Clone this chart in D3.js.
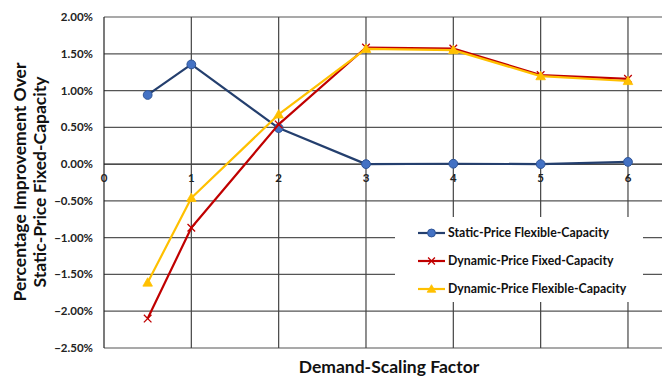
<!DOCTYPE html>
<html>
<head>
<meta charset="utf-8">
<script src="https://cdn.jsdelivr.net/npm/d3@7"></script>
<style>
  html, body { margin: 0; padding: 0; background: #fff; }
  svg { display: block; font-family: Lato, "Open Sans", sans-serif; }
</style>
</head>
<body>
<svg id="chart" width="662" height="378"></svg>
<script>
// Demand-scaling factors at which each policy was evaluated
const factors = [0.5, 1, 2, 3, 4, 5, 6];

// Percentage improvement over the static-price fixed-capacity baseline
const staticFlexible  = [0.94, 1.355, 0.49, 0.0, 0.005, 0.0, 0.03];
const dynamicFixed    = [-2.10, -0.865, 0.54, 1.585, 1.572, 1.21, 1.16];
const dynamicFlexible = [-1.61, -0.46, 0.675, 1.567, 1.55, 1.196, 1.13];

const seriesNames = [
  "Static-Price Flexible-Capacity",
  "Dynamic-Price Fixed-Capacity",
  "Dynamic-Price Flexible-Capacity"
];

const xTicks = [0, 1, 2, 3, 4, 5, 6];
const yTicks = [2.0, 1.5, 1.0, 0.5, 0.0, -0.5, -1.0, -1.5, -2.0, -2.5];

const W = 662, H = 378;
const svg = d3.select("#chart");

const x = d3.scaleLinear().domain([0, 6.4]).range([104, 104 + 6.4 * 87.33]);
const y = d3.scaleLinear().domain([-2.5, 2.0]).range([348, 17]);

const series = [
  { name: seriesNames[0], values: staticFlexible,  line: "#243F6E", marker: "circle",   fill: "#4472C4", stroke: "#2F5597" },
  { name: seriesNames[1], values: dynamicFixed,    line: "#C00000", marker: "cross",    fill: "none",    stroke: "#C00000" },
  { name: seriesNames[2], values: dynamicFlexible, line: "#FFC000", marker: "triangle", fill: "#FFC000", stroke: "#FFC000" }
];

// Gridlines
const grid = svg.append("g");
grid.selectAll("line.h").data(yTicks).join("line")
  .attr("x1", x(0)).attr("x2", W)
  .attr("y1", d => y(d)).attr("y2", d => y(d))
  .attr("stroke", d => d === 0 ? "#111" : "#555").attr("stroke-width", 1.2);
grid.selectAll("line.v").data(xTicks).join("line")
  .attr("x1", d => x(d)).attr("x2", d => x(d))
  .attr("y1", y(2.0)).attr("y2", y(-2.5))
  .attr("stroke", d => d === 0 ? "#222" : "#444").attr("stroke-width", 1.2);

// Y tick labels
svg.append("g").selectAll("text").data(yTicks).join("text")
  .attr("x", 93).attr("y", d => y(d)).attr("dy", "0.35em")
  .attr("text-anchor", "end")
  .attr("font-size", 11.5).attr("font-weight", "bold").attr("fill", "#222")
  .text(d => d3.format(".2f")(d) + "%");

// X tick labels, sitting just under the zero line
svg.append("g").selectAll("text").data(xTicks).join("text")
  .attr("x", d => x(d)).attr("y", y(0) + 18)
  .attr("text-anchor", "middle")
  .attr("font-size", 11.5).attr("font-weight", "bold").attr("fill", "#222")
  .text(d => d);

// Marker drawing helper
function drawMarker(g, s, cx, cy, scale) {
  const k = scale || 1;
  if (s.marker === "circle") {
    g.append("circle").attr("cx", cx).attr("cy", cy).attr("r", 4.4 * k)
      .attr("fill", s.fill).attr("stroke", s.stroke).attr("stroke-width", 1);
  } else if (s.marker === "cross") {
    const r = 3.8 * k;
    g.append("path")
      .attr("d", `M${cx - r},${cy - r}L${cx + r},${cy + r}M${cx - r},${cy + r}L${cx + r},${cy - r}`)
      .attr("stroke", s.stroke).attr("stroke-width", 1.3).attr("fill", "none");
  } else {
    const r = 4.8 * k;
    g.append("path")
      .attr("d", `M${cx},${cy - r}L${cx + r},${cy + r * 0.75}L${cx - r},${cy + r * 0.75}Z`)
      .attr("fill", s.fill).attr("stroke", s.stroke).attr("stroke-width", 0.8);
  }
}

// Lines and markers
const line = d3.line().x(d => x(d[0])).y(d => y(d[1]));
series.forEach(s => {
  const pts = factors.map((f, i) => [f, s.values[i]]);
  const g = svg.append("g");
  g.append("path").datum(pts).attr("d", line)
    .attr("fill", "none").attr("stroke", s.line).attr("stroke-width", 2.2)
    .attr("stroke-linejoin", "round");
  pts.forEach(p => drawMarker(g, s, x(p[0]), y(p[1])));
});

// Legend on a white panel
const legend = svg.append("g");
legend.append("rect").attr("x", 395).attr("y", 217).attr("width", 248).attr("height", 85)
  .attr("fill", "#fff");
series.forEach((s, i) => {
  const ly = 233 + i * 28;
  legend.append("line").attr("x1", 418).attr("x2", 445).attr("y1", ly).attr("y2", ly)
    .attr("stroke", s.line).attr("stroke-width", 2.2);
  drawMarker(legend, s, 431.5, ly, 0.9);
  legend.append("text").attr("x", 448).attr("y", ly).attr("dy", "0.35em")
    .attr("font-size", 12.3).attr("font-weight", "bold").attr("fill", "#111")
    .text(s.name);
});

// Axis titles
svg.append("text")
  .attr("x", 389).attr("y", 373)
  .attr("text-anchor", "middle")
  .attr("font-size", 17.5).attr("font-weight", "bold").attr("fill", "#111")
  .text("Demand-Scaling Factor");

const yTitle = svg.append("text")
  .attr("transform", "translate(0,182) rotate(-90)")
  .attr("text-anchor", "middle")
  .attr("font-size", 17.5).attr("font-weight", "bold").attr("fill", "#111");
yTitle.append("tspan").attr("x", 0).attr("y", 26).text("Percentage Improvement Over");
yTitle.append("tspan").attr("x", 0).attr("y", 46).text("Static-Price Fixed-Capacity");
</script>
</body>
</html>
